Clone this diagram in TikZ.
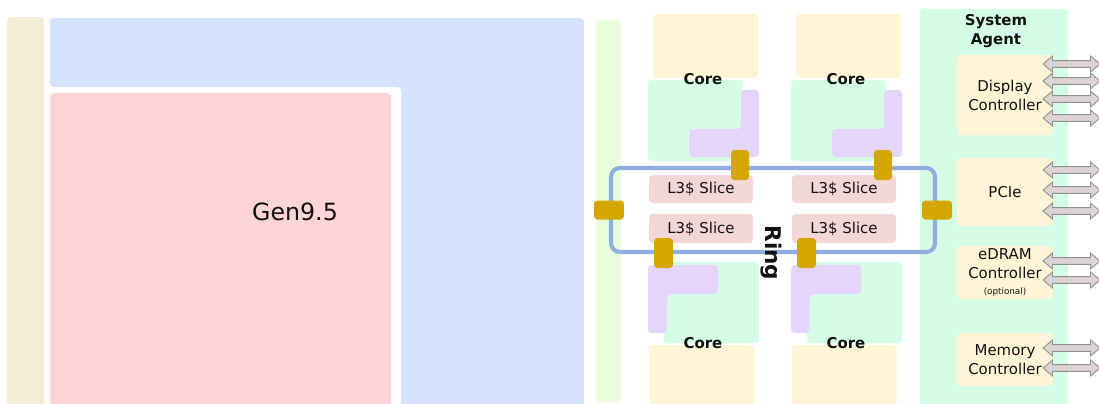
\documentclass[tikz,border=0pt]{standalone}
\usepackage{fontspec}
\setmainfont{DejaVu Sans}
\usetikzlibrary{shapes.arrows}
\definecolor{bege}{HTML}{F3EDD5}
\definecolor{azulclaro}{HTML}{D5E3FC}
\definecolor{rosa}{HTML}{FDD5D7}
\definecolor{verdelima}{HTML}{E8FDD9}
\definecolor{creme}{HTML}{FFF4D6}
\definecolor{menta}{HTML}{D5FDE5}
\definecolor{lilas}{HTML}{E5D5FD}
\definecolor{salmao}{HTML}{F3D7D7}
\definecolor{ouro}{HTML}{D4A700}
\definecolor{anel}{HTML}{8EAEE2}
\definecolor{setafundo}{HTML}{DCD4D4}
\definecolor{setalinha}{HTML}{909090}
\definecolor{texto}{HTML}{111111}

\begin{document}
\begin{tikzpicture}[x=0.02cm,y=-0.02cm, font=\fontsize{8.5}{10.8}\selectfont, text=texto,
    blk/.style={fill=#1, rounded corners=2pt, inner sep=0pt, outer sep=0pt},
    sz/.style 2 args={minimum width=#1*0.02cm, minimum height=#2*0.02cm},
    core/.style={font=\fontsize{8.5}{10.8}\selectfont\bfseries},
    ringbox/.style={draw=anel, line width=2.3pt, rounded corners=5pt, inner sep=0pt},
    io/.style={double arrow, draw=setalinha, fill=setafundo, line width=0.5pt, inner sep=0pt, inner ysep=1.7pt,
      minimum height=57*0.02cm, double arrow head extend=2.6pt, double arrow tip angle=80}]
  \useasboundingbox (0,0) rectangle (1099,403);
  \clip (0,0) rectangle (1099,403);
  \node[blk=bege, sz={37}{393}] (io) at (25.5,213.5) {};
  \fill[azulclaro, rounded corners=2pt] (50,18) -- (584,18) -- (584,420) -- (401,420) -- (401,87) -- (50,87) -- cycle;
  \node[blk=rosa, sz={341}{327}] (gpu) at (220.5,256.5) {};
  \node[font=\fontsize{13.5}{16}\selectfont] (gen) at (295,212) {Gen9.5};
  \node[blk=verdelima, sz={25}{382}] (disp) at (608.5,211) {};
  \node[blk=menta, sz={148}{411}] (sa) at (994,214.5) {};
  \node[core, align=center] (satit) at (996,31) {System\\Agent};
  \node[blk=creme, sz={96}{80}, align=center] (dc) at (1005,95) {Display\\Controller};
  \node[blk=creme, sz={96}{68}] (pcie) at (1005,192) {PCIe};
  \node[blk=creme, sz={96}{53}, align=center] (edram) at (1005,272.5) {eDRAM\\Controller\\[-2pt]{\fontsize{5}{5}\selectfont(optional)}};
  \node[blk=creme, sz={96}{53}, align=center] (mc) at (1005,359.5) {Memory\\Controller};
  \foreach \y [count=\i] in {64,81,99,118,170,190,211,261,280,348,368}
    \node[io] (seta\i) at (1071.5,\y) {};
  \foreach \dx/\c in {0/a,143/b}{
    \node[blk=creme, sz={105}{64}] (ut\c) at (705.5+\dx,46) {};
    \node[blk=menta, sz={95}{81}] (ct\c) at (695.5+\dx,120.5) {};
    \fill[lilas, rounded corners=2pt] (741+\dx,90) -- (759+\dx,90) -- (759+\dx,157) -- (689+\dx,157) -- (689+\dx,129) -- (741+\dx,129) -- cycle;
    \node[core] (lt\c) at (703+\dx,79) {Core};
    \node[blk=menta, sz={95}{81}] (cb\c) at (711.5+\dx,302.5) {};
    \fill[lilas, rounded corners=2pt] (648+\dx,265) -- (718+\dx,265) -- (718+\dx,294) -- (667+\dx,294) -- (667+\dx,333) -- (648+\dx,333) -- cycle;
    \node[blk=creme, sz={105}{75}] (ub\c) at (701.5+\dx,382.5) {};
    \node[core] (lb\c) at (703+\dx,343) {Core};
    \node[blk=salmao, sz={104}{28}] (l3t\c) at (701+\dx,189) {L3\$ Slice};
    \node[blk=salmao, sz={104}{29}] (l3b\c) at (701+\dx,228.5) {L3\$ Slice};
  }
  \node[ringbox, sz={324}{84}] (ring) at (773,210) {};
  \node[blk=ouro, sz={30}{19}] (stL) at (ring.west) {};
  \node[blk=ouro, sz={30}{19}] (stR) at (ring.east) {};
  \foreach \dx/\c in {0/a,143/b}{
    \node[blk=ouro, sz={18}{30}] (stT\c) at (740+\dx,165) {};
    \node[blk=ouro, sz={19}{30}] (stB\c) at (663.5+\dx,253) {};
  }
  \node[rotate=-90, font=\fontsize{12.3}{14}\selectfont\bfseries] (ringlbl) at (771,253) {Ring};
\end{tikzpicture}
\end{document}
